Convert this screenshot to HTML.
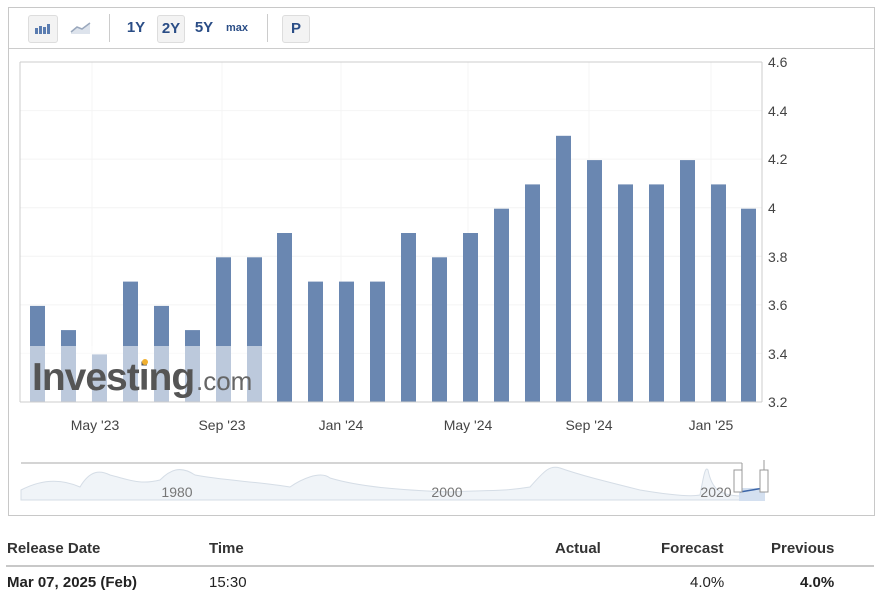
<!DOCTYPE html>
<html><head><style>
body{margin:0;width:882px;height:596px;background:#fff;font-family:"Liberation Sans",sans-serif;overflow:hidden;position:relative}
.box{position:absolute;left:8px;top:7px;width:865px;height:507px;border:1px solid #c8c8c8}
.tb{position:absolute;left:0;top:0;width:865px;height:40px;border-bottom:1px solid #ccc}
.btn{position:absolute;top:7px;height:26px;font-weight:bold;color:#2a4d86;font-size:15px;line-height:26px;text-align:center}
.sel{background:#f3f3f3;border:1px solid #ddd;border-radius:3px}
.sep{position:absolute;top:6px;width:1px;height:28px;background:#ccc}
.th{position:absolute;top:540px;font-weight:bold;font-size:15px;color:#333}
.td{position:absolute;top:574px;font-size:15px;color:#222}
</style></head><body>
<div class="box">
<div class="tb">
<div class="btn sel" style="left:19px;width:28px"><svg width="28" height="26"><g fill="#5a7cb0"><rect x="6" y="12" width="3" height="6"/><rect x="10" y="10" width="3" height="8"/><rect x="14" y="11" width="3" height="7"/><rect x="18" y="8" width="3" height="10"/></g></svg></div>
<div class="btn" style="left:58px;width:28px"><svg width="28" height="26"><path d="M4 17 L10 12 L15 14 L23 8 L23 19 L4 19Z" fill="#dde3ec"/><path d="M4 17 L10 12 L15 14 L23 8" stroke="#9aa8bd" fill="none" stroke-width="1.5"/></svg></div>
<div class="sep" style="left:100px"></div>
<div class="btn" style="left:114px;width:26px">1Y</div>
<div class="btn sel" style="left:148px;width:26px">2Y</div>
<div class="btn" style="left:182px;width:26px">5Y</div>
<div class="btn" style="left:215px;width:26px;font-size:11px">max</div>
<div class="sep" style="left:258px"></div>
<div class="btn sel" style="left:273px;width:26px">P</div>
</div>
</div>
<svg style="position:absolute;left:0;top:0" width="882" height="520">
<g stroke="#f4f4f4">
<line x1="20" y1="110.6" x2="762" y2="110.6"/><line x1="20" y1="159.1" x2="762" y2="159.1"/><line x1="20" y1="207.7" x2="762" y2="207.7"/><line x1="20" y1="256.3" x2="762" y2="256.3"/><line x1="20" y1="304.9" x2="762" y2="304.9"/><line x1="20" y1="353.4" x2="762" y2="353.4"/>
<line x1="92" y1="62" x2="92" y2="402"/><line x1="222" y1="62" x2="222" y2="402"/><line x1="341" y1="62" x2="341" y2="402"/><line x1="468" y1="62" x2="468" y2="402"/><line x1="589" y1="62" x2="589" y2="402"/><line x1="711" y1="62" x2="711" y2="402"/>
</g>
<g fill="#6a87b1">
<rect x="30" y="305.9" width="15" height="96.1"/><rect x="61" y="330.1" width="15" height="71.9"/><rect x="92" y="354.4" width="15" height="47.6"/><rect x="123" y="281.6" width="15" height="120.4"/><rect x="154" y="305.9" width="15" height="96.1"/><rect x="185" y="330.1" width="15" height="71.9"/><rect x="216" y="257.3" width="15" height="144.7"/><rect x="247" y="257.3" width="15" height="144.7"/><rect x="277" y="233" width="15" height="169"/><rect x="308" y="281.6" width="15" height="120.4"/><rect x="339" y="281.6" width="15" height="120.4"/><rect x="370" y="281.6" width="15" height="120.4"/><rect x="401" y="233" width="15" height="169"/><rect x="432" y="257.3" width="15" height="144.7"/><rect x="463" y="233" width="15" height="169"/><rect x="494" y="208.7" width="15" height="193.3"/><rect x="525" y="184.4" width="15" height="217.6"/><rect x="556" y="135.8" width="15" height="266.2"/><rect x="587" y="160.1" width="15" height="241.9"/><rect x="618" y="184.4" width="15" height="217.6"/><rect x="649" y="184.4" width="15" height="217.6"/><rect x="680" y="160.1" width="15" height="241.9"/><rect x="711" y="184.4" width="15" height="217.6"/><rect x="741" y="208.7" width="15" height="193.3"/>
</g>
<rect x="20" y="346" width="244" height="56" fill="#fff" opacity="0.55"/>
<text x="32" y="390" font-size="39" font-weight="bold" fill="#555" font-family="Liberation Sans" letter-spacing="-1">Investing</text>
<circle cx="145" cy="362" r="3" fill="#f0b030"/>
<text x="196" y="390" font-size="26" fill="#666" font-family="Liberation Sans">.com</text>
<line x1="20" y1="62" x2="20" y2="402" stroke="#ccc"/>
<line x1="20" y1="62" x2="762" y2="62" stroke="#ccc"/>
<line x1="762" y1="62" x2="762" y2="402" stroke="#ccc"/>
<line x1="20" y1="402" x2="762" y2="402" stroke="#ccc"/>
<g font-size="14" fill="#444" font-family="Liberation Sans">
<text x="768" y="67">4.6</text><text x="768" y="116">4.4</text><text x="768" y="164">4.2</text><text x="768" y="213">4</text><text x="768" y="262">3.8</text><text x="768" y="310">3.6</text><text x="768" y="359">3.4</text><text x="768" y="407">3.2</text>
</g>
<g font-size="14" fill="#444" font-family="Liberation Sans" text-anchor="middle">
<text x="95" y="430">May '23</text><text x="222" y="430">Sep '23</text><text x="341" y="430">Jan '24</text><text x="468" y="430">May '24</text><text x="589" y="430">Sep '24</text><text x="711" y="430">Jan '25</text>
</g>
<line x1="21" y1="463" x2="742" y2="463" stroke="#aaa"/>
<path d="M21 490 C40 480 60 478 80 487 C90 470 100 470 110 475 C130 480 140 485 160 480 C170 470 180 465 195 475 C220 480 260 482 290 487 C300 480 320 470 330 478 C360 487 400 490 450 492 C480 490 500 492 530 487 C545 470 550 465 560 468 C580 475 600 480 640 490 C670 495 690 497 700 495 C703 480 705 465 708 470 C712 490 720 495 740 496 L740 500 L21 500Z" fill="#f0f4f8" stroke="#d5dde6"/>
<rect x="739" y="488" width="26" height="13" fill="#d4e0f0"/>
<path d="M740 492 L752 490 L764 488" stroke="#3d66a8" stroke-width="1.5" fill="none"/>
<g stroke="#999" fill="#fff"><rect x="734" y="470" width="8" height="22"/><rect x="760" y="470" width="8" height="22"/></g>
<line x1="742" y1="463" x2="742" y2="470" stroke="#999"/><line x1="764" y1="460" x2="764" y2="470" stroke="#999"/>
<g font-size="14" fill="#777" font-family="Liberation Sans" text-anchor="middle"><text x="177" y="497">1980</text><text x="447" y="497">2000</text><text x="716" y="497">2020</text></g>
</svg>
<div class="th" style="left:7px">Release Date</div>
<div class="th" style="left:209px">Time</div>
<div class="th" style="left:555px">Actual</div>
<div class="th" style="left:661px">Forecast</div>
<div class="th" style="left:771px">Previous</div>
<div style="position:absolute;left:6px;top:565px;width:868px;height:2px;background:#c8c8c8"></div>
<div class="td" style="left:7px;font-weight:bold">Mar 07, 2025 (Feb)</div>
<div class="td" style="left:209px">15:30</div>
<div class="td" style="left:690px">4.0%</div>
<div class="td" style="left:800px;font-weight:bold">4.0%</div>
</body></html>
